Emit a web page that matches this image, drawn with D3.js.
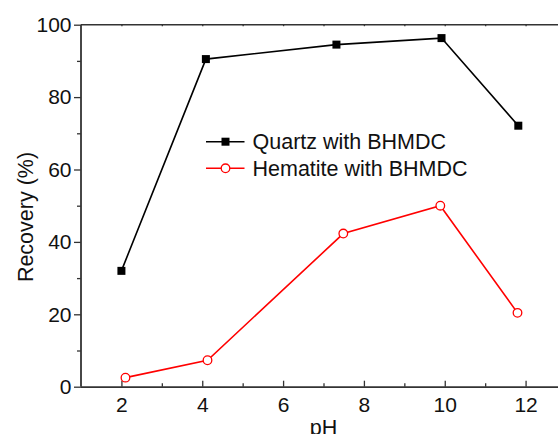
<!DOCTYPE html>
<html><head><meta charset="utf-8">
<script src="https://cdn.jsdelivr.net/npm/d3@7"></script>
<style>html,body{margin:0;padding:0;background:#fff;overflow:hidden}</style>
</head><body><div id="chart"></div>
<script>
const quartzPH = [2.0, 4.09, 7.32, 9.92, 11.82];
const quartzRec = [32.0, 90.5, 94.5, 96.3, 72.1];
const hematitePH = [2.1, 4.13, 7.49, 9.89, 11.8];
const hematiteRec = [2.5, 7.3, 42.3, 50.0, 20.4];
const seriesNames = ["Quartz with BHMDC", "Hematite with BHMDC"];
const xTicks = [2, 4, 6, 8, 10, 12];
const xMinor = [3, 5, 7, 9, 11];
const yTicks = [0, 20, 40, 60, 80, 100];
const yMinor = [10, 30, 50, 70, 90];

const W = 558, H = 434;
const pL = 81, pR = 566, pT = 24.7, pB = 386.7;
const font = "'Liberation Sans', Arial, sans-serif";
const axisColor = "#333";

const svg = d3.select("#chart").append("svg").attr("width", W).attr("height", H)
  .style("font-family", font);

const x = d3.scaleLinear().domain([1, 13]).range([pL, pR]);
const y = d3.scaleLinear().domain([0, 100]).range([pB, pT]);

const xAxis = svg.append("g").attr("transform", `translate(0,${pB})`)
  .call(d3.axisBottom(x).tickValues(xTicks).tickSize(-6).tickPadding(13).tickFormat(d3.format("d")));
const xAxisMinor = svg.append("g").attr("transform", `translate(0,${pB})`)
  .call(d3.axisBottom(x).tickValues(xMinor).tickSize(-3.5).tickFormat(""));
const xTop = svg.append("g").attr("transform", `translate(0,${pT})`)
  .call(d3.axisTop(x).tickValues(xTicks.concat(xMinor)).tickSize(-1.5).tickFormat(""));
const yAxis = svg.append("g").attr("transform", `translate(${pL},0)`)
  .call(d3.axisLeft(y).tickValues(yTicks).tickSize(7).tickPadding(2.5).tickFormat(d3.format("d")));
const yAxisMinor = svg.append("g").attr("transform", `translate(${pL},0)`)
  .call(d3.axisLeft(y).tickValues(yMinor).tickSize(4).tickFormat(""));

[xAxis, xAxisMinor, xTop, yAxis, yAxisMinor].forEach(g => {
  g.select(".domain").attr("stroke", axisColor).attr("stroke-width", 1.8);
  g.selectAll(".tick line").attr("stroke", axisColor).attr("stroke-width", 1.3);
  g.selectAll("text").attr("fill", "#111").style("font-size", "21px").style("font-family", font);
});
xTop.select(".domain").attr("stroke-width", 1.5);
xAxis.selectAll("text").attr("dy", null).attr("y", 25);
xAxis.select(".domain").attr("d", `M${pL},0.5H${pR}`);
xAxisMinor.select(".domain").remove();
xTop.select(".domain").attr("d", `M${pL},0H${pR}`);
yAxis.select(".domain").attr("d", `M0,${pB}V${pT}`);
yAxisMinor.select(".domain").remove();

svg.append("text").attr("x", (pL + pR) / 2).attr("y", 435).attr("text-anchor", "middle")
  .style("font-size", "21.5px").attr("fill", "#111").text("pH");
svg.append("text").attr("transform", "translate(33,217) rotate(-90)").attr("text-anchor", "middle")
  .style("font-size", "21.5px").attr("fill", "#111").text("Recovery (%)");

const quartz = quartzPH.map((p, i) => [p, quartzRec[i]]);
const hematite = hematitePH.map((p, i) => [p, hematiteRec[i]]);
const line = d3.line().x(d => x(d[0])).y(d => y(d[1]));

svg.append("path").datum(quartz).attr("d", line).attr("fill", "none")
  .attr("stroke", "#000").attr("stroke-width", 1.6);
svg.append("path").datum(hematite).attr("d", line).attr("fill", "none")
  .attr("stroke", "#f00").attr("stroke-width", 1.6);

const sq = 8;
svg.selectAll(".qm").data(quartz).enter().append("rect")
  .attr("x", d => x(d[0]) - sq / 2).attr("y", d => y(d[1]) - sq / 2)
  .attr("width", sq).attr("height", sq).attr("fill", "#000");
svg.selectAll(".hm").data(hematite).enter().append("circle")
  .attr("cx", d => x(d[0])).attr("cy", d => y(d[1])).attr("r", 4.3)
  .attr("fill", "#fff").attr("stroke", "#f00").attr("stroke-width", 1.3);

const lg = svg.append("g");
const rows = [
  {name: seriesNames[0], color: "#000", y: 141.7, mark: "sq"},
  {name: seriesNames[1], color: "#f00", y: 168.3, mark: "ci"}
];
rows.forEach(r => {
  lg.append("line").attr("x1", 206).attr("x2", 244.5).attr("y1", r.y).attr("y2", r.y)
    .attr("stroke", r.color).attr("stroke-width", 1.6);
  if (r.mark === "sq") {
    lg.append("rect").attr("x", 225.5 - sq / 2).attr("y", r.y - sq / 2).attr("width", sq).attr("height", sq).attr("fill", "#000");
  } else {
    lg.append("circle").attr("cx", 225.5).attr("cy", r.y).attr("r", 4.3)
      .attr("fill", "#fff").attr("stroke", "#f00").attr("stroke-width", 1.3);
  }
  lg.append("text").attr("x", 252.5).attr("y", r.y + 7.6).style("font-size", "21.5px")
    .attr("fill", "#111").text(r.name);
});
</script>
</body></html>
